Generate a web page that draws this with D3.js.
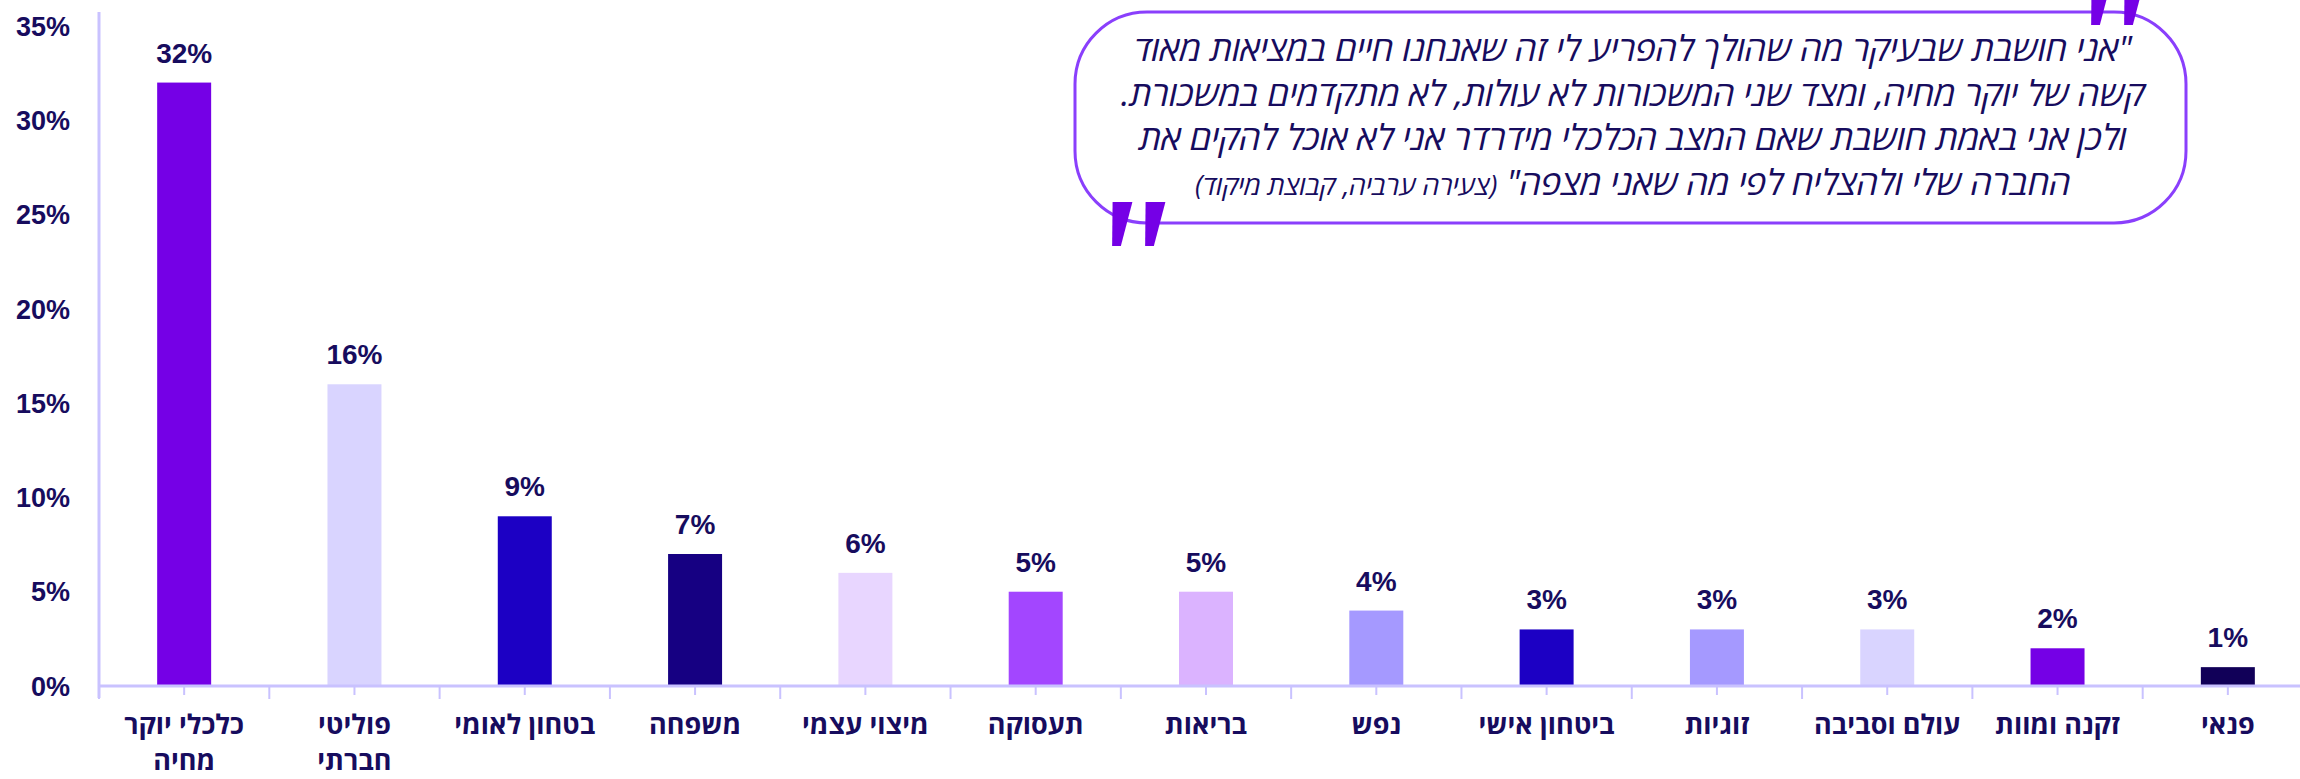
<!DOCTYPE html>
<html>
<head>
<meta charset="utf-8">
<script src="https://cdn.jsdelivr.net/npm/d3@7"></script>
<style>
body { margin: 0; background: #fff; }
svg { display: block; }
</style>
</head>
<body>
<script>
var width = 2300, height = 779;

// data
var categories = ["כלכלי יוקר\nמחיה", "פוליטי\nחברתי", "בטחון לאומי", "משפחה", "מיצוי עצמי", "תעסוקה",
	"בריאות", "נפש", "ביטחון אישי", "זוגיות", "עולם וסביבה", "זקנה ומוות", "פנאי"];
var values = [0.32, 0.16, 0.09, 0.07, 0.06, 0.05, 0.05, 0.04, 0.03, 0.03, 0.03, 0.02, 0.01];
var barColors = ["#7500e6", "#d9d4ff", "#1c00c4", "#160082", "#e8d6ff", "#a346ff", "#dbb3ff",
	"#a599ff", "#1c00c4", "#a599ff", "#d9d4ff", "#7500e6", "#110058"];
var yTicks = [0, 0.05, 0.10, 0.15, 0.20, 0.25, 0.30, 0.35];
var quoteLines = [
	"\"אני חושבת שבעיקר מה שהולך להפריע לי זה שאנחנו חיים במציאות מאוד",
	"קשה של יוקר מחיה, ומצד שני המשכורות לא עולות, לא מתקדמים במשכורת.",
	"ולכן אני באמת חושבת שאם המצב הכלכלי מידרדר אני לא אוכל להקים את",
	"החברה שלי ולהצליח לפי מה שאני מצפה\""
];
var quoteSource = "(צעירה ערביה, קבוצת מיקוד)";

var textColor = "#170c5e";
var axisColor = "#c9c2ff";
var numFont = "'Liberation Sans', Arial, sans-serif";
var hebFont = "'Open Sans', 'Liberation Sans', sans-serif";

var svg = d3.select("body").append("svg")
	.attr("width", width)
	.attr("height", height);

var x = d3.scaleBand()
	.domain(categories)
	.range([99, 2313])
	.paddingInner(0.683)
	.paddingOuter(0.3415);

var y = d3.scaleLinear()
	.domain([0, 0.35])
	.range([686, 26]);

// y axis line + labels
svg.append("line")
	.attr("x1", 99).attr("x2", 99)
	.attr("y1", 12).attr("y2", 698)
	.attr("stroke", axisColor).attr("stroke-width", 3);

svg.selectAll(".ytick")
	.data(yTicks)
	.enter().append("text")
	.attr("x", 70)
	.attr("y", function(d) { return y(d); })
	.attr("dy", "0.36em")
	.attr("text-anchor", "end")
	.attr("font-family", numFont)
	.attr("font-weight", "bold")
	.attr("font-size", 27)
	.attr("fill", textColor)
	.text(d3.format(".0%"));

// bars
svg.selectAll(".bar")
	.data(values)
	.enter().append("rect")
	.attr("x", function(d, i) { return x(categories[i]); })
	.attr("y", function(d) { return y(d); })
	.attr("width", x.bandwidth())
	.attr("height", function(d) { return y(0) - y(d); })
	.attr("fill", function(d, i) { return barColors[i]; });

// value labels
svg.selectAll(".val")
	.data(values)
	.enter().append("text")
	.attr("x", function(d, i) { return x(categories[i]) + x.bandwidth() / 2; })
	.attr("y", function(d) { return y(d) - 20; })
	.attr("text-anchor", "middle")
	.attr("font-family", numFont)
	.attr("font-weight", "bold")
	.attr("font-size", 28)
	.attr("fill", textColor)
	.text(d3.format(".0%"));

// x axis line and ticks
svg.append("line")
	.attr("x1", 99).attr("x2", 2300)
	.attr("y1", y(0)).attr("y2", y(0))
	.attr("stroke", axisColor).attr("stroke-width", 3);

var edges = d3.range(categories.length + 1).map(function(i) { return 99 + i * x.step(); });
svg.selectAll(".edgetick")
	.data(edges)
	.enter().append("line")
	.attr("x1", function(d) { return d; }).attr("x2", function(d) { return d; })
	.attr("y1", y(0)).attr("y2", y(0) + 13)
	.attr("stroke", axisColor).attr("stroke-width", 2);

svg.selectAll(".midtick")
	.data(categories)
	.enter().append("line")
	.attr("x1", function(d) { return x(d) + x.bandwidth() / 2; })
	.attr("x2", function(d) { return x(d) + x.bandwidth() / 2; })
	.attr("y1", y(0)).attr("y2", y(0) + 9)
	.attr("stroke", axisColor).attr("stroke-width", 2);

// category labels
var catLabels = svg.selectAll(".cat")
	.data(categories)
	.enter().append("text")
	.attr("text-anchor", "middle")
	.attr("direction", "rtl")
	.attr("font-family", hebFont)
	.attr("font-weight", "bold")
	.attr("font-size", 27)
	.attr("fill", textColor);

catLabels.selectAll("tspan")
	.data(function(d) { return d.split("\n").map(function(t) { return {t: t, c: d}; }); })
	.enter().append("tspan")
	.attr("x", function(d) { return x(d.c) + x.bandwidth() / 2; })
	.attr("y", function(d, i) { return 734 + i * 36; })
	.text(function(d) { return d.t; });

// quote bubble
var bubble = svg.append("g");
bubble.append("rect")
	.attr("x", 1075).attr("y", 12)
	.attr("width", 1111).attr("height", 211)
	.attr("rx", 72).attr("ry", 72)
	.attr("fill", "#fff")
	.attr("stroke", "#8a3ffc")
	.attr("stroke-width", 3);

var qText = bubble.append("text")
	.attr("font-family", hebFont)
	.attr("font-style", "italic")
	.attr("font-size", 35)
	.attr("fill", textColor)
	.attr("direction", "rtl")
	.attr("text-anchor", "middle");

quoteLines.forEach(function(line, i) {
	var t = qText.append("tspan")
		.attr("x", 1633)
		.attr("y", 61 + i * 44.5)
		.text(line);
	if (i == quoteLines.length - 1) {
		qText.append("tspan").text("  ");
		qText.append("tspan").attr("font-size", 27).text(quoteSource);
	}
});

// big quote marks
function quoteMark(cx, top, h) {
	var w = h * 0.45, gap = h * 0.3;
	[-1, 1].forEach(function(s) {
		var mx = cx + s * (gap / 2 + w / 2);
		bubble.append("path")
			.attr("d", "M" + (mx - w / 2 + 3) + "," + top + "L" + (mx + w / 2 + 3) + "," + top +
				"L" + (mx + w * 0.22 - 3) + "," + (top + h) + "L" + (mx - w * 0.22 - 3) + "," + (top + h) + "Z")
			.attr("fill", "#7500e6");
	});
}
quoteMark(1136, 202, 44);
quoteMark(2115, -19, 44);
</script>
</body>
</html>
